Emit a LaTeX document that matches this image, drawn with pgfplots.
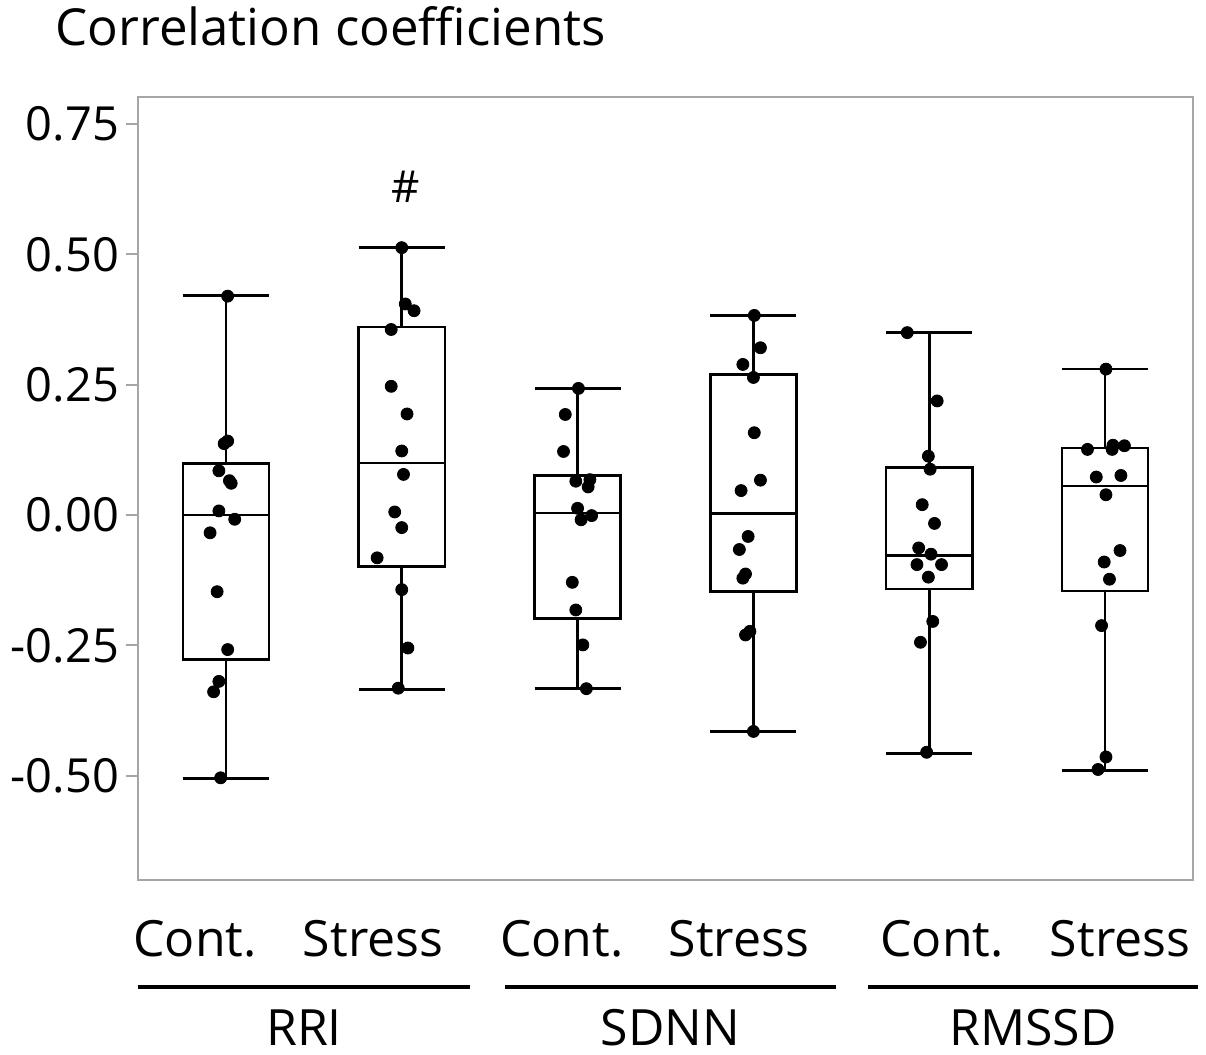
\documentclass[border=0pt]{standalone}
\usepackage{pgfplots}
\pgfplotsset{compat=1.18}
\usepgfplotslibrary{statistics}
\usepackage{fontspec}
\setmainfont{Open Sans}
\definecolor{framegray}{HTML}{A6A6A6}
\begin{document}
\begin{tikzpicture}
\begin{axis}[
  at={(0,0)}, anchor=south west,
  scale only axis, width=527.5pt, height=391.5pt,
  xmin=0.5, xmax=6.5, ymin=-0.70, ymax=0.802,
  xtick=\empty,
  ytick={-0.5,-0.25,0,0.25,0.5,0.75},
  ytick pos=left,
  tick align=outside,
  major tick length=6pt,
  tick style={framegray, line width=1pt},
  axis line style={framegray, line width=1pt},
  /pgf/number format/assume math mode=true,
  yticklabel={\pgfmathprintnumber[fixed,fixed zerofill,precision=2]{\tick}},
  yticklabel style={font=\fontsize{23.5}{28}\selectfont, text=black},
  boxplot/draw direction=y,
  boxplot/every box/.style={line width=1.3pt},
  boxplot/every whisker/.style={line width=1.3pt},
  boxplot/every median/.style={line width=1.3pt},
  clip=false,
]
\addplot[black, line width=1.3pt, boxplot prepared={draw position=1, lower whisker=-0.505, lower quartile=-0.277, median=0.0, upper quartile=0.099, upper whisker=0.421, box extend=0.49, whisker extend=0.49}] coordinates {};
\addplot[black, line width=1.3pt, boxplot prepared={draw position=2, lower whisker=-0.335, lower quartile=-0.099, median=0.100, upper quartile=0.361, upper whisker=0.513, box extend=0.49, whisker extend=0.49}] coordinates {};
\addplot[black, line width=1.3pt, boxplot prepared={draw position=3, lower whisker=-0.333, lower quartile=-0.198, median=0.004, upper quartile=0.076, upper whisker=0.243, box extend=0.49, whisker extend=0.49}] coordinates {};
\addplot[black, line width=1.3pt, boxplot prepared={draw position=4, lower whisker=-0.415, lower quartile=-0.147, median=0.003, upper quartile=0.270, upper whisker=0.383, box extend=0.49, whisker extend=0.49}] coordinates {};
\addplot[black, line width=1.3pt, boxplot prepared={draw position=5, lower whisker=-0.457, lower quartile=-0.142, median=-0.078, upper quartile=0.091, upper whisker=0.350, box extend=0.49, whisker extend=0.49}] coordinates {};
\addplot[black, line width=1.3pt, boxplot prepared={draw position=6, lower whisker=-0.490, lower quartile=-0.146, median=0.056, upper quartile=0.129, upper whisker=0.280, box extend=0.49, whisker extend=0.49}] coordinates {};

\addplot[only marks, mark=*, mark size=3pt, black] table[row sep=\\] {
x y\\
1.01 0.420\\ 1.01 0.142\\ 0.99 0.137\\ 0.96 0.085\\ 1.02 0.066\\ 1.03 0.061\\ 0.96 0.008\\
1.05 -0.008\\ 0.91 -0.034\\ 0.95 -0.147\\ 1.01 -0.258\\ 0.96 -0.319\\ 0.93 -0.339\\ 0.97 -0.504\\
};
\addplot[only marks, mark=*, mark size=3pt, black] table[row sep=\\] {
x y\\
2.00 0.513\\ 2.02 0.405\\ 2.07 0.392\\ 1.94 0.356\\ 1.94 0.247\\ 2.03 0.194\\ 2.00 0.123\\
2.01 0.078\\ 1.96 0.006\\ 2.00 -0.024\\ 1.86 -0.082\\ 2.00 -0.143\\ 2.035 -0.255\\ 1.98 -0.332\\
};
\addplot[only marks, mark=*, mark size=3pt, black] table[row sep=\\] {
x y\\
3.005 0.243\\ 2.93 0.193\\ 2.92 0.122\\ 2.99 0.065\\ 3.07 0.068\\ 3.06 0.054\\ 3.00 0.013\\
3.02 -0.009\\ 3.08 -0.001\\ 2.97 -0.129\\ 2.99 -0.182\\ 3.03 -0.249\\ 3.05 -0.333\\
};
\addplot[only marks, mark=*, mark size=3pt, black] table[row sep=\\] {
x y\\
4.005 0.383\\ 4.04 0.321\\ 3.94 0.289\\ 4.00 0.264\\ 4.005 0.158\\ 4.04 0.067\\ 3.93 0.047\\
3.97 -0.041\\ 3.92 -0.066\\ 3.955 -0.113\\ 3.94 -0.121\\ 3.98 -0.223\\ 3.955 -0.230\\ 4.00 -0.415\\
};
\addplot[only marks, mark=*, mark size=3pt, black] table[row sep=\\] {
x y\\
4.875 0.350\\ 5.045 0.219\\ 4.995 0.113\\ 5.005 0.088\\ 4.96 0.020\\ 5.03 -0.016\\ 4.94 -0.063\\
5.01 -0.075\\ 4.93 -0.095\\ 5.07 -0.095\\ 4.995 -0.119\\ 5.02 -0.204\\ 4.95 -0.244\\ 4.985 -0.455\\
};
\addplot[only marks, mark=*, mark size=3pt, black] table[row sep=\\] {
x y\\
6.005 0.280\\ 5.90 0.126\\ 6.045 0.134\\ 6.04 0.126\\ 6.11 0.133\\ 5.95 0.073\\ 6.09 0.076\\
6.005 0.039\\ 6.085 -0.068\\ 5.995 -0.090\\ 6.025 -0.123\\ 5.98 -0.212\\ 6.005 -0.464\\ 5.96 -0.488\\
};

% annotations
\node[font=\fontsize{22}{26}\selectfont, anchor=base] at (axis cs:2.02,0.60) {\#};
\node[font=\fontsize{25.5}{30}\selectfont, anchor=base west, inner sep=0pt] at (axis cs:0.028,0.90) {Correlation coefficients};

\begin{scope}[every node/.style={font=\fontsize{25}{30}\selectfont, anchor=base, inner sep=0pt}]
\node at (axis cs:0.824,-0.846) {Cont.};
\node at (axis cs:1.837,-0.846) {Stress};
\node at (axis cs:2.911,-0.846) {Cont.};
\node at (axis cs:3.918,-0.846) {Stress};
\node at (axis cs:5.073,-0.846) {Cont.};
\node at (axis cs:6.085,-0.846) {Stress};
\node at (axis cs:1.444,-1.017) {RRI};
\node at (axis cs:3.528,-1.017) {SDNN};
\node at (axis cs:5.590,-1.017) {RMSSD};
\end{scope}
\draw[black, line width=2pt] (axis cs:0.50,-0.906) -- (axis cs:2.388,-0.906);
\draw[black, line width=2pt] (axis cs:2.587,-0.906) -- (axis cs:4.470,-0.906);
\draw[black, line width=2pt] (axis cs:4.652,-0.906) -- (axis cs:6.529,-0.906);
\end{axis}
\path (0,0) ++(-69pt,-87.5pt) rectangle ++(603pt,527.5pt);
\end{tikzpicture}
\end{document}
